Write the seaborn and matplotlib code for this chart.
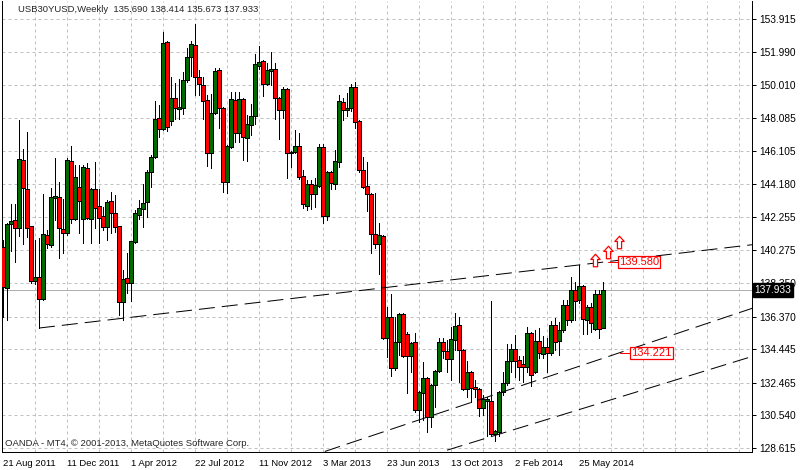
import pandas as pd
import seaborn as sns
import matplotlib
matplotlib.use("Agg")
import matplotlib.pyplot as plt
import matplotlib.transforms as mtransforms
from matplotlib.path import Path

sns.set_style("white")
plt.rcParams["font.family"] = ["Liberation Sans", "DejaVu Sans"]
plt.rcParams["font.size"] = 6.8

# ---- weekly bars, 21 Aug 2011 onwards ----
opens = [
    140.47, 138.05, 141.83, 142.06, 141.59, 145.60, 143.89, 141.71, 138.46, 138.70,
    137.40, 141.18, 140.59, 143.36, 143.42, 141.53, 141.30, 145.54, 142.12, 144.01,
    142.12, 145.13, 142.12, 143.89, 142.89, 142.30, 141.65, 143.18, 142.47, 141.71,
    137.22, 138.64, 138.35, 140.76, 142.36, 142.71, 143.12, 144.89, 145.78, 148.08,
    147.43, 152.56, 147.90, 149.26, 148.61, 148.67, 150.32, 151.67, 152.38, 150.49,
    150.02, 149.14, 146.01, 148.37, 150.91, 148.67, 144.30, 146.37, 149.14, 147.19,
    149.20, 146.90, 147.66, 148.19, 151.14, 151.44, 150.08, 150.85, 150.97, 149.26,
    148.55, 149.79, 146.01, 146.07, 146.43, 144.66, 142.89, 144.18, 143.60, 144.07,
    146.37, 142.30, 144.89, 144.18, 145.48, 149.02, 148.55, 148.67, 149.90, 147.90,
    145.01, 144.07, 143.60, 141.24, 140.65, 141.12, 135.10, 136.34, 133.33, 134.87,
    136.52, 135.34, 134.04, 134.87, 130.86, 131.86, 132.74, 130.44, 132.33, 133.16,
    134.87, 134.34, 133.86, 134.99, 135.87, 134.40, 132.09, 133.10, 132.21, 132.09,
    130.97, 131.39, 131.39, 129.44, 129.56, 131.92, 132.45, 133.75, 134.46, 133.81,
    133.57, 133.39, 135.40, 133.10, 134.93, 134.16, 134.57, 134.22, 135.87, 134.93,
    135.58, 137.05, 136.16, 137.93, 137.34, 138.17, 136.16, 136.93, 135.63, 137.70,
    135.690,
]
highs = [
    140.88, 141.88, 143.01, 143.01, 147.96, 146.25, 147.25, 141.71, 140.88, 141.00,
    143.60, 141.47, 143.95, 145.72, 144.30, 143.30, 145.72, 146.43, 145.31, 145.31,
    145.31, 145.42, 143.95, 145.48, 143.89, 142.83, 143.24, 143.71, 143.54, 141.71,
    139.11, 140.11, 140.85, 142.65, 143.24, 144.18, 145.01, 145.90, 149.08, 148.84,
    153.15, 152.62, 150.49, 150.14, 150.38, 150.79, 152.21, 152.62, 153.62, 150.91,
    150.49, 149.43, 149.49, 151.02, 151.02, 148.73, 146.49, 149.61, 149.61, 149.61,
    149.26, 148.25, 148.90, 151.85, 152.32, 151.50, 151.32, 151.97, 151.32, 149.32,
    149.90, 149.85, 146.13, 147.37, 147.19, 145.01, 144.42, 144.42, 144.54, 146.55,
    146.55, 144.95, 144.95, 146.19, 149.43, 149.26, 149.55, 150.08, 150.20, 147.96,
    145.78, 145.48, 143.65, 143.65, 141.88, 141.18, 136.93, 137.70, 136.34, 136.58,
    136.58, 135.46, 134.87, 135.40, 131.98, 133.69, 132.80, 132.39, 133.22, 135.10,
    135.10, 134.99, 135.75, 136.58, 136.34, 134.46, 133.75, 133.16, 132.63, 132.15,
    131.74, 131.62, 137.28, 129.68, 131.98, 133.10, 134.75, 134.75, 135.28, 134.04,
    134.04, 135.75, 135.46, 135.58, 135.69, 135.22, 135.10, 136.11, 136.28, 136.05,
    137.34, 137.34, 138.70, 138.41, 139.41, 138.23, 137.05, 137.16, 137.93, 137.93,
    138.414,
]
lows = [
    136.34, 136.16, 140.23, 139.59, 141.12, 140.65, 141.06, 138.35, 138.29, 135.69,
    137.34, 140.41, 140.47, 142.06, 139.82, 140.11, 141.18, 141.88, 142.06, 141.30,
    140.70, 142.12, 140.70, 141.59, 140.70, 141.47, 140.88, 141.30, 141.35, 136.46,
    136.16, 137.76, 137.28, 140.70, 142.12, 141.65, 142.24, 144.01, 145.72, 146.96,
    147.37, 147.31, 147.66, 148.02, 148.02, 148.31, 150.20, 150.55, 149.43, 149.43,
    148.02, 145.25, 145.13, 148.31, 147.49, 143.71, 143.65, 146.31, 146.66, 146.66,
    145.60, 145.54, 147.07, 147.72, 150.97, 149.37, 150.02, 150.02, 148.02, 146.84,
    148.08, 144.54, 145.19, 146.01, 144.48, 142.77, 142.65, 142.71, 142.83, 144.01,
    141.88, 142.06, 143.89, 143.89, 145.19, 147.96, 148.19, 148.49, 147.49, 144.89,
    143.95, 142.59, 140.11, 140.41, 138.88, 135.04, 133.98, 132.86, 133.22, 134.10,
    133.98, 131.86, 133.10, 130.74, 130.15, 130.27, 129.56, 129.85, 131.03, 133.10,
    133.92, 133.10, 132.63, 134.40, 132.51, 132.04, 131.62, 131.33, 131.62, 130.50,
    130.56, 129.32, 129.38, 129.03, 129.32, 131.74, 132.33, 133.10, 132.80, 132.63,
    132.51, 133.10, 132.27, 133.04, 133.92, 133.92, 133.10, 134.10, 134.40, 134.10,
    135.46, 135.87, 136.05, 136.16, 137.16, 135.34, 135.34, 135.46, 135.58, 135.10,
    135.673,
]
closes = [
    138.11, 141.83, 142.00, 141.59, 145.66, 143.95, 141.59, 138.46, 138.70, 137.40,
    141.24, 140.65, 143.42, 143.48, 141.59, 141.30, 145.60, 142.12, 144.60, 143.18,
    145.19, 142.18, 143.89, 142.77, 142.18, 141.65, 143.12, 142.47, 141.65, 137.22,
    138.58, 138.35, 140.82, 142.47, 142.77, 143.06, 144.89, 145.78, 148.02, 147.43,
    152.50, 147.55, 149.26, 148.67, 148.73, 150.32, 151.67, 152.44, 150.49, 150.08,
    149.08, 146.01, 148.37, 150.85, 148.67, 144.30, 146.43, 149.20, 147.19, 149.20,
    146.96, 147.72, 148.19, 151.26, 151.38, 150.08, 150.91, 150.97, 149.26, 148.55,
    149.79, 146.01, 146.07, 146.43, 144.60, 143.01, 144.18, 143.60, 144.13, 146.37,
    142.30, 144.89, 144.24, 145.54, 149.08, 148.55, 148.67, 149.90, 147.84, 145.01,
    144.01, 143.60, 141.24, 140.65, 141.18, 135.10, 136.34, 133.33, 134.87, 136.52,
    134.04, 134.04, 134.81, 130.86, 131.92, 132.74, 130.44, 132.33, 133.16, 134.87,
    134.34, 133.86, 135.04, 135.81, 134.40, 132.09, 133.10, 132.15, 132.09, 130.97,
    131.51, 131.51, 129.44, 129.62, 131.92, 132.45, 133.75, 134.46, 133.75, 133.39,
    133.39, 135.40, 132.92, 134.93, 134.22, 134.57, 134.22, 135.87, 134.87, 135.58,
    137.05, 136.16, 137.93, 137.28, 138.17, 136.22, 136.93, 136.00, 137.70, 135.63,
    137.933,
]

# date labels every 16 weeks
date_labels = ["21 Aug 2011", "11 Dec 2011", "1 Apr 2012", "22 Jul 2012", "11 Nov 2012",
               "3 Mar 2013", "23 Jun 2013", "13 Oct 2013", "2 Feb 2014", "25 May 2014"]
date_pos = [0, 16, 32, 48, 64, 80, 96, 112, 128, 144]

price_ticks = [153.915, 151.990, 150.010, 148.085, 146.105, 144.180, 142.255,
               140.275, 138.350, 136.370, 134.445, 132.465, 130.540, 128.615]

# trend lines: (bar index, price) pairs
trend_upper = ([9, 187.5], [135.69, 140.61])
trend_mid = ([75, 187.5], [127.98, 136.87])
trend_low = ([100, 187.5], [127.69, 134.03])

# arrows and line labels
arrow_x = [148.1, 151.2, 154.0]
arrow_y = [139.72, 140.19, 140.78]
label_upper = (151.25, 139.580)
label_mid = (154.25, 134.221)
last_price = 137.933

bars = pd.DataFrame({"open": opens, "high": highs, "low": lows, "close": closes})
bars["idx"] = range(len(bars))
bars["up"] = bars["close"] >= bars["open"]
bars["body_lo"] = bars[["open", "close"]].min(axis=1)
bars["body_h"] = (bars["close"] - bars["open"]).abs()

px = 0.72  # one pixel in points at dpi 100
col_up = "#006a00"
col_dn = "#ff0000"
col_grid = "#c0c0c0"

fig = plt.figure(figsize=(8, 4.7), dpi=100)
ax = fig.add_axes([2 / 800, 18 / 470, 750 / 800, 451 / 470])
ax.set_xlim(-0.25, 187.25)
ax.set_ylim(128.38, 154.977)

# grid
for p in price_ticks:
    ax.axhline(p, color=col_grid, lw=px, ls=(0, (3, 3)), zorder=0)
for k in range(8, 188, 8):
    ax.axvline(k, color=col_grid, lw=px, ls=(0, (3, 3)), zorder=0)

# current price line
ax.axhline(last_price, color="#b0b0b0", lw=px, zorder=0.5)

# candles
ax.vlines(bars["idx"], bars["low"], bars["high"], color="black", lw=px,
          antialiased=False, zorder=2)
ax.bar(bars["idx"], bars["body_h"], bottom=bars["body_lo"], width=0.8,
       color=[col_up if u else col_dn for u in bars["up"]],
       edgecolor="black", linewidth=px, antialiased=False, zorder=3)

# trend lines
for tx, ty in (trend_upper, trend_mid, trend_low):
    sns.lineplot(x=tx, y=ty, ax=ax, color="black", lw=px, sort=False,
                 estimator=None, linestyle=(0, (16, 7)), zorder=4)

# up arrows
arrow = Path([(0, 6), (4.5, 1), (2, 1), (2, -6), (-2, -6), (-2, 1), (-4.5, 1), (0, 6)],
             [Path.MOVETO] + [Path.LINETO] * 6 + [Path.CLOSEPOLY])
ax.plot(arrow_x, arrow_y, ls="none", marker=arrow, markersize=9,
        markerfacecolor="white", markeredgecolor="red", markeredgewidth=0.9, zorder=5)

# price labels of the trend lines
for lx, lp in (label_upper, label_mid):
    ax.plot([lx, lx + 2.6], [lp, lp], color="red", lw=px, zorder=5)
    ax.text(lx + 2.75, lp, f"{lp:.3f}", color="red", ha="left", va="center",
            fontsize=8, zorder=6,
            bbox=dict(boxstyle="square,pad=0.12", fc="white", ec="red", lw=0.9))

# axes styling
for s in ("left", "right", "bottom"):
    ax.spines[s].set_color("black")
    ax.spines[s].set_linewidth(px)
ax.spines["top"].set_visible(False)

ax.yaxis.tick_right()
ax.set_yticks(price_ticks, [f"{p:.3f}" for p in price_ticks])
ax.tick_params(axis="y", direction="out", length=3, width=px, pad=2,
               labelsize=7.3, colors="black")
ax.set_xticks(date_pos, date_labels, ha="left")
ax.tick_params(axis="x", direction="out", length=3, width=px, pad=2,
               labelsize=6.8, colors="black")
ax.set_xlabel("")
ax.set_ylabel("")

# last price box on the scale
trans = mtransforms.blended_transform_factory(ax.transAxes, ax.transData)
ax.text(1.003, last_price, f"{last_price:.3f}", transform=trans, color="white",
        ha="left", va="center", fontsize=7.3, clip_on=False, zorder=10,
        bbox=dict(boxstyle="square,pad=0.15", fc="black", ec="black"))

fig.text(18 / 800, 1 - 10 / 470,
         "USB30YUSD,Weekly  135.690 138.414 135.673 137.933",
         ha="left", va="center", fontsize=6.8)
fig.text(5 / 800, 1 - 444 / 470,
         "OANDA - MT4, \u00a9 2001-2013, MetaQuotes Software Corp.",
         ha="left", va="center", fontsize=6.8)

fig.savefig("out.png", dpi=100)
